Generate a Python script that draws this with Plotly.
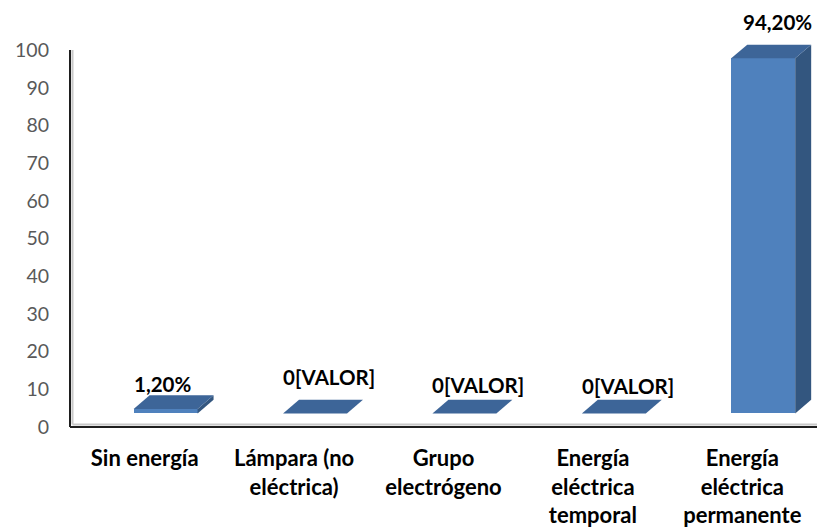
import plotly.graph_objects as go

# ---- data -------------------------------------------------------------
categories = [
    "Sin energía",
    "Lámpara (no<br>eléctrica)",
    "Grupo<br>electrógeno",
    "Energía<br>eléctrica<br>temporal",
    "Energía<br>eléctrica<br>permanente",
]
values = [1.2, 0, 0, 0, 94.2]
y_ticks = list(range(0, 101, 10))


def label_text(v):
    # zero values carry the unresolved "[VALOR]" field of the source workbook
    return "0[VALOR]" if v == 0 else f"{v:.2f}".replace(".", ",") + "%"


labels = [label_text(v) for v in values]

# ---- style / pseudo 3-D projection -------------------------------------
FLOOR = 3.6          # front edge of the floor, in value units
DEPTH_X = 0.107      # receding depth, category units
DEPTH_Y = 3.6        # receding depth, value units
BAR_OFFSET = -0.074  # front face start relative to category centre
BAR_WIDTH = 0.428
FRONT, SIDE, TOP = "#4F81BD", "#33567F", "#3D6598"
LABEL_XSHIFT = [18, 35, 34, 35, 35]
LABEL_YSHIFT = [25, 36, 28, 27, 36]

Y_MAX = 104
W, H = 817, 527
MARGIN = dict(l=70, r=0, t=35, b=100)
plot_w = W - MARGIN["l"] - MARGIN["r"]
plot_h = H - MARGIN["t"] - MARGIN["b"]

idx = list(range(len(categories)))

fig = go.Figure()
fig.add_trace(go.Bar(
    x=idx, y=values, base=[FLOOR] * len(values),
    offset=BAR_OFFSET, width=BAR_WIDTH,
    marker=dict(color=FRONT, line=dict(width=0)),
    hoverinfo="skip", showlegend=False,
))

shapes = []
for i, v in zip(idx, values):
    x0 = i + BAR_OFFSET
    x1 = x0 + BAR_WIDTH
    yb = FLOOR
    yt = FLOOR + v
    side = (f"M {x1},{yb} L {x1},{yt} L {x1 + DEPTH_X},{yt + DEPTH_Y} "
            f"L {x1 + DEPTH_X},{yb + DEPTH_Y} Z")
    top = (f"M {x0},{yt} L {x1},{yt} L {x1 + DEPTH_X},{yt + DEPTH_Y} "
           f"L {x0 + DEPTH_X},{yt + DEPTH_Y} Z")
    shapes.append(dict(type="path", path=side, xref="x", yref="y",
                       fillcolor=SIDE, line=dict(width=0)))
    shapes.append(dict(type="path", path=top, xref="x", yref="y",
                       fillcolor=TOP, line=dict(width=0)))

# axis lines with their soft inner shadow
y_top = max(y_ticks) / Y_MAX
sx = 2.5 / plot_w
sy = 2.5 / plot_h
shapes += [
    dict(type="line", xref="paper", yref="paper", x0=sx, x1=sx, y0=sy, y1=y_top,
         line=dict(color="#C8C8C8", width=2)),
    dict(type="line", xref="paper", yref="paper", x0=sx, x1=1, y0=sy, y1=sy,
         line=dict(color="#C8C8C8", width=2)),
    dict(type="line", xref="paper", yref="paper", x0=0, x1=0, y0=0, y1=y_top,
         line=dict(color="#1E1E1E", width=2)),
    dict(type="line", xref="paper", yref="paper", x0=0, x1=1, y0=0, y1=0,
         line=dict(color="#1E1E1E", width=2)),
]

annotations = []
for i, v, t, dx, dy in zip(idx, values, labels, LABEL_XSHIFT, LABEL_YSHIFT):
    annotations.append(dict(
        x=i, y=FLOOR + v, xref="x", yref="y", text=t, showarrow=False,
        xshift=dx, yshift=dy, xanchor="center", yanchor="middle",
        font=dict(family="Lato", size=20.5, color="#000000", weight="bold"),
    ))

fig.update_layout(
    width=W, height=H, margin=MARGIN,
    paper_bgcolor="white", plot_bgcolor="white",
    shapes=shapes, annotations=annotations,
    xaxis=dict(
        range=[-0.5, len(categories) - 0.5],
        tickvals=idx, ticktext=categories,
        showgrid=False, zeroline=False, showline=False, ticks="",
        tickfont=dict(family="Lato", size=22, color="#000000", weight="bold"),
        ticklabelstandoff=16,
    ),
    yaxis=dict(
        range=[0, Y_MAX], tickvals=y_ticks,
        showgrid=False, zeroline=False, showline=False, ticks="",
        tickfont=dict(family="Lato", size=19.5, color="#595959"),
        ticklabelstandoff=20,
    ),
    bargap=0,
)

fig.write_html("out.html")
